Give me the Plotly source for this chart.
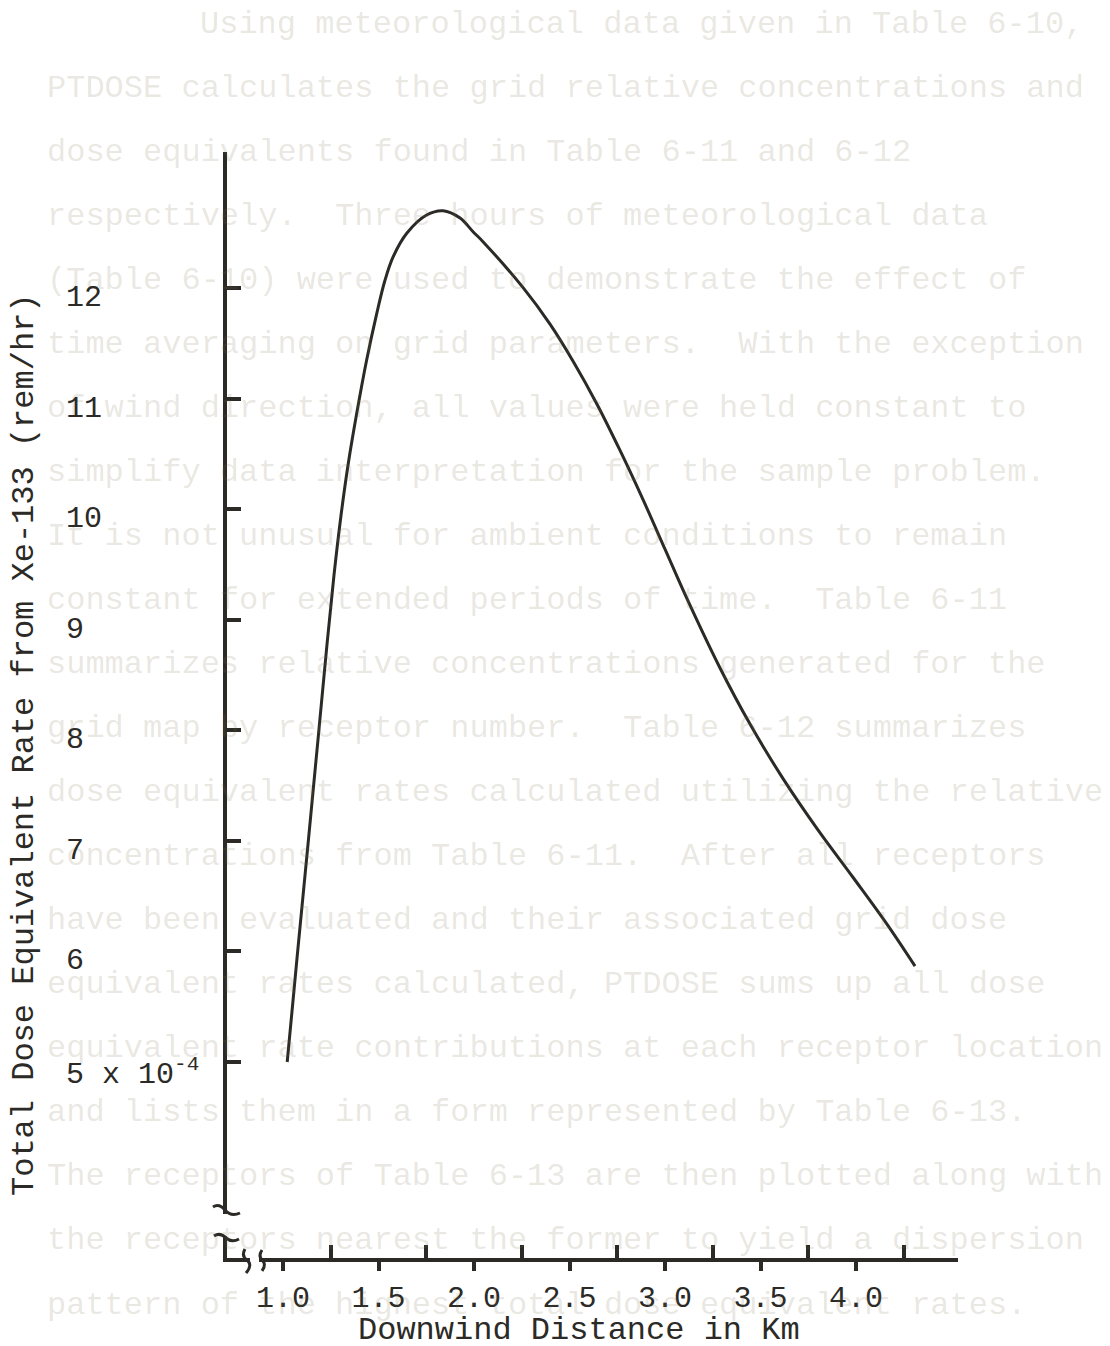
import plotly.graph_objects as go

# ---------------- data ----------------
distance_km = [1.022, 1.076, 1.130, 1.183, 1.230, 1.267, 1.304, 1.342, 1.386, 1.438,
               1.491, 1.534, 1.577, 1.648, 1.752, 1.838, 1.927, 1.995, 2.047, 2.257,
               2.398, 2.518, 2.644, 2.764, 2.885, 3.000, 3.115, 3.288, 3.445, 3.618,
               3.796, 3.984, 4.162, 4.309]
dose_rate = [5.000, 5.986, 6.953, 7.912, 8.771, 9.404, 9.947, 10.415, 10.867, 11.349,
             11.771, 12.070, 12.283, 12.495, 12.660, 12.699, 12.633, 12.509, 12.419, 12.003,
             11.673, 11.340, 10.949, 10.533, 10.086, 9.638, 9.190, 8.563, 8.056, 7.563,
             7.111, 6.671, 6.247, 5.867]

x_tick_vals = [1.0, 1.5, 2.0, 2.5, 3.0, 3.5, 4.0]
x_tick_text = ["1.0", "1.5", "2.0", "2.5", "3.0", "3.5", "4.0"]
x_minor_vals = [1.25, 1.75, 2.25, 2.75, 3.25, 3.75, 4.25]
y_tick_vals = [5, 6, 7, 8, 9, 10, 11, 12]
y_tick_text = ["5 x 10<sup>-4</sup>", "6", "7", "8", "9", "10", "11", "12"]

x_title = "Downwind Distance in Km"
y_title = "Total Dose Equivalent Rate from Xe-133 (rem/hr)"

# faint show-through text of the scanned page
ghost_lines = [
    "Using meteorological data given in Table 6-10,",
    "PTDOSE calculates the grid relative concentrations and",
    "dose equivalents found in Table 6-11 and 6-12",
    "respectively.  Three hours of meteorological data",
    "(Table 6-10) were used to demonstrate the effect of",
    "time averaging on grid parameters.  With the exception",
    "of wind direction, all values were held constant to",
    "simplify data interpretation for the sample problem.",
    "It is not unusual for ambient conditions to remain",
    "constant for extended periods of time.  Table 6-11",
    "summarizes relative concentrations generated for the",
    "grid map by receptor number.  Table 6-12 summarizes",
    "dose equivalent rates calculated utilizing the relative",
    "concentrations from Table 6-11.  After all receptors",
    "have been evaluated and their associated grid dose",
    "equivalent rates calculated, PTDOSE sums up all dose",
    "equivalent rate contributions at each receptor location",
    "and lists them in a form represented by Table 6-13.",
    "The receptors of Table 6-13 are then plotted along with",
    "the receptors nearest the former to yield a dispersion",
    "pattern of the highest total dose equivalent rates.",
]

# ---------------- layout geometry (page pixels) ----------------
W, H = 1110, 1346
OFF = 8  # page body margin
L, R, T, B = 227, 958, 152, 1258
INK = "#2b2a26"
FONT = "Liberation Mono, Courier New, monospace"
GHOST = "rgba(120,110,70,0.17)"


def px(x):
    return (x - L) / (R - L)


def py(y):
    return (B - y) / (B - T)


def path(points_cmd):
    out = []
    for cmd, pts in points_cmd:
        coords = " ".join(f"{px(a):.5f},{py(b):.5f}" for a, b in pts)
        out.append(f"{cmd} {coords}")
    return " ".join(out)


fig = go.Figure()
fig.add_trace(go.Scatter(
    x=distance_km, y=dose_rate, mode="lines",
    line=dict(color=INK, width=3, shape="spline", smoothing=1.0),
    hoverinfo="skip", showlegend=False,
))

annotations = []
for i, line in enumerate(ghost_lines):
    left = 198 if i == 0 else 45
    yc = 24 + i * 64.05
    annotations.append(dict(
        text=line, xref="paper", yref="paper", x=px(left), y=py(yc),
        xanchor="left", yanchor="middle", showarrow=False,
        font=dict(family=FONT, size=32, color=GHOST),
    ))

for v, t in zip(y_tick_vals, y_tick_text):
    annotations.append(dict(
        text=t, xref="paper", yref="y", x=px(64), y=v, yshift=-10,
        xanchor="left", yanchor="middle", showarrow=False,
        font=dict(family=FONT, size=30, color=INK),
    ))

annotations.append(dict(
    text=x_title, xref="paper", yref="paper", x=px(579), y=py(1330),
    xanchor="center", yanchor="middle", showarrow=False,
    font=dict(family=FONT, size=32, color=INK),
))
annotations.append(dict(
    text=y_title, xref="paper", yref="paper", x=px(25), y=py(745),
    xanchor="center", yanchor="middle", showarrow=False, textangle=-90,
    font=dict(family=FONT, size=32, color=INK),
))

shapes = [
    dict(type="rect", xref="paper", yref="paper", layer="above",
         x0=px(214), x1=px(237), y0=py(1214), y1=py(1236),
         fillcolor="white", line=dict(width=0)),
    dict(type="rect", xref="paper", yref="paper", layer="above",
         x0=px(250), x1=px(259), y0=py(1266), y1=py(1254),
         fillcolor="white", line=dict(width=0)),
    dict(type="path", xref="paper", yref="paper", layer="above",
         path=path([("M", [(213, 1207)]), ("Q", [(219, 1203), (225, 1210)]),
                    ("Q", [(231, 1217), (240, 1213)])]),
         line=dict(color=INK, width=3)),
    dict(type="path", xref="paper", yref="paper", layer="above",
         path=path([("M", [(214, 1236)]), ("Q", [(220, 1232), (226, 1238)]),
                    ("Q", [(232, 1243), (239, 1239)])]),
         line=dict(color=INK, width=3)),
    dict(type="path", xref="paper", yref="paper", layer="above",
         path=path([("M", [(245, 1249)]), ("Q", [(241, 1256), (247, 1260)]),
                    ("Q", [(253, 1265), (246, 1273)])]),
         line=dict(color=INK, width=3)),
    dict(type="path", xref="paper", yref="paper", layer="above",
         path=path([("M", [(262, 1250)]), ("Q", [(258, 1256), (262, 1260)]),
                    ("Q", [(267, 1264), (262, 1271)])]),
         line=dict(color=INK, width=3)),
]

x0 = 1 + (L - 283) / 191
x1 = 1 + (R - 283) / 191
y0 = 5 + (1062 - B) / 110.57
y1 = 5 + (1062 - T) / 110.57

fig.update_layout(
    width=W, height=H,
    margin=dict(l=L - OFF, r=W - (R - OFF), t=T - OFF, b=H - (B - OFF), pad=0),
    paper_bgcolor="white", plot_bgcolor="white",
    showlegend=False,
    annotations=annotations,
    shapes=shapes,
    xaxis=dict(
        range=[x0, x1], showgrid=False, zeroline=False,
        showline=True, linecolor=INK, linewidth=4,
        tickmode="array", tickvals=x_tick_vals, ticktext=x_tick_text,
        ticks="outside", ticklen=9, tickwidth=4, tickcolor=INK,
        tickfont=dict(family=FONT, size=30, color=INK),
        minor=dict(tickmode="array", tickvals=x_minor_vals, ticks="inside",
                   ticklen=13, tickwidth=4, tickcolor=INK, showgrid=False),
    ),
    yaxis=dict(
        range=[y0, y1], showgrid=False, zeroline=False,
        showline=True, linecolor=INK, linewidth=4,
        tickmode="array", tickvals=y_tick_vals,
        ticks="inside", ticklen=14, tickwidth=4, tickcolor=INK,
        showticklabels=False,
    ),
)

fig.write_html("out.html")
